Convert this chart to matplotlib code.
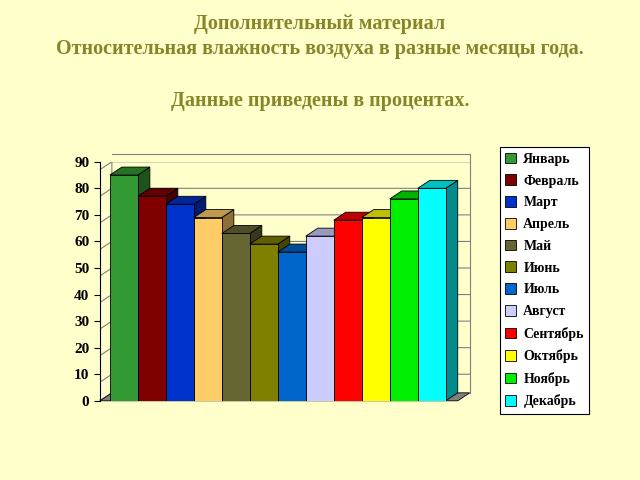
import matplotlib
matplotlib.use("Agg")
import matplotlib.pyplot as plt
from matplotlib.patches import Polygon, Patch
import matplotlib.colors as mc

months = ["Январь","Февраль","Март","Апрель","Май","Июнь","Июль","Август","Сентябрь","Октябрь","Ноябрь","Декабрь"]
values = [85, 77, 74, 69, 63, 59, 56, 62, 68, 69, 76, 80]
colors = ["#339933","#800000","#0033CC","#FFCC66","#666633","#808000","#0066CC","#CCCCFF","#FF0000","#FFFF00","#00EE00","#00FFFF"]
yticks = [0,10,20,30,40,50,60,70,80,90]

plt.rcParams['font.family'] = ['Liberation Serif', 'DejaVu Serif']
fig = plt.figure(figsize=(6.4,4.8), dpi=100, facecolor="#FFFFCC")
fig.text(0.5, 0.97, "Дополнительный материал\nОтносительная влажность воздуха в разные месяцы года.",
         ha="center", va="top", fontsize=14.5, fontweight="bold", color="#868628", linespacing=1.3)
fig.text(0.5, 0.81, "Данные приведены в процентах.", ha="center", va="top",
         fontsize=14.5, fontweight="bold", color="#868628")

ax = fig.add_axes([0.156, 0.165, 0.578, 0.498])
ax.set_facecolor("#FFFFCC")
x0, x1 = -0.857, 12.36
ax.set_xlim(x0, x1); ax.set_ylim(0, 90)
dx, dy = 0.43, 3.0
for v in yticks[1:]:
    ax.plot([x0, x0+dx, x1], [v-dy, v, v], color="#808080", lw=0.8, zorder=1)
ax.plot([x0, x0+dx, x0+dx], [0, dy, 90], color="#808080", lw=0.8, zorder=1)
ax.plot([x0+dx, x1, x1], [90+dy, 90+dy, dy], color="#808080", lw=0.8, zorder=1, clip_on=False)
ax.add_patch(Polygon([[x0,0],[x1-dx,0],[x1,dy],[x0+dx,dy]], closed=True,
                     facecolor="#808080", edgecolor="black", lw=0.6, zorder=2, clip_on=False))

def darker(c, f):
    r,g,b = mc.to_rgb(c); return (r*f, g*f, b*f)

for i,(v,c) in enumerate(zip(values, colors)):
    l, r = i-0.5, i+0.5
    ax.add_patch(Polygon([[r,0],[r+dx,dy],[r+dx,v+dy],[r,v]], facecolor=darker(c,0.55), edgecolor="black", lw=0.6, zorder=3+i))
    ax.add_patch(Polygon([[l,v],[r,v],[r+dx,v+dy],[l+dx,v+dy]], facecolor=darker(c,0.75), edgecolor="black", lw=0.6, zorder=3+i))
    ax.add_patch(Polygon([[l,0],[r,0],[r,v],[l,v]], facecolor=c, edgecolor="black", lw=0.6, zorder=3+i))

ax.set_yticks(yticks)
ax.set_yticklabels([str(t) for t in yticks], fontsize=11, fontweight="bold")
ax.set_xticks([])
for s in ["top","right","bottom"]:
    ax.spines[s].set_visible(False)
ax.tick_params(axis="y", length=4)

handles = [Patch(facecolor=c, edgecolor="black", lw=0.6) for c in colors]
leg = fig.legend(handles, months, loc="upper left", bbox_to_anchor=(0.770, 0.708), frameon=True,
                 fancybox=False, edgecolor="black", facecolor="white", framealpha=1,
                 prop={'weight':'bold','size':10}, handlelength=0.8, handleheight=0.8,
                 labelspacing=0.62, handletextpad=0.5, borderpad=0.4)
leg.get_frame().set_linewidth(0.8)
fig.savefig("out.png", dpi=100, facecolor=fig.get_facecolor())
